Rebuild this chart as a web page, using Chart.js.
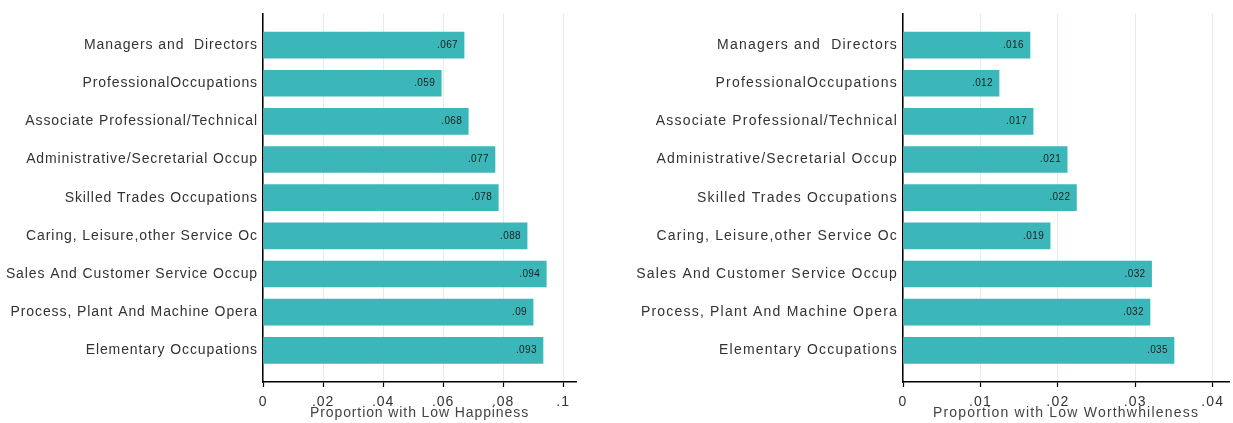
<!DOCTYPE html>
<html>
<head>
<meta charset="utf-8">
<script src="https://cdn.jsdelivr.net/npm/chart.js@4.4.0/dist/chart.umd.min.js"></script>
<style>
html, body { margin: 0; padding: 0; background: #fff; }
#left { position: absolute; left: 0; top: 0; width: 590px; height: 423px; }
#right { position: absolute; left: 620px; top: 0; width: 613px; height: 423px; }
</style>
</head>
<body>
<div id="left"><canvas id="chartLeft"></canvas></div>
<div id="right"><canvas id="chartRight"></canvas></div>
<script>
const occupations = [
    "Managers and  Directors",
    "ProfessionalOccupations",
    "Associate Professional/Technical",
    "Administrative/Secretarial Occup",
    "Skilled Trades Occupations",
    "Caring, Leisure,other Service Oc",
    "Sales And Customer Service Occup",
    "Process, Plant And Machine Opera",
    "Elementary Occupations"
];
const lowHappiness = [0.067, 0.0594, 0.0684, 0.0773, 0.0784, 0.088, 0.0944, 0.09, 0.0933];
const lowWorthwhileness = [0.0164, 0.0124, 0.0168, 0.0212, 0.0224, 0.019, 0.0321, 0.0319, 0.035];
const happinessTicks = [0, 0.02, 0.04, 0.06, 0.08, 0.1];
const worthwhileTicks = [0, 0.01, 0.02, 0.03, 0.04];

const fmt = (v) => v === 0 ? "0" : v.toFixed(3).replace(/0+$/, "").replace(/^0/, "");

const barValueLabels = {
    id: "barValueLabels",
    beforeDraw(chart, args, opts) {
        chart.ctx.letterSpacing = opts.spacing + "px";
    },
    afterDatasetsDraw(chart) {
        const ctx = chart.ctx;
        const meta = chart.getDatasetMeta(0);
        ctx.save();
        ctx.letterSpacing = "0.4px";
        ctx.font = '10px "Liberation Sans"';
        ctx.fillStyle = "#1e1e1e";
        ctx.textAlign = "right";
        ctx.textBaseline = "middle";
        meta.data.forEach((bar, i) => {
            ctx.fillText(fmt(chart.data.datasets[0].data[i].x), bar.x - 6, bar.y);
        });
        ctx.restore();
    }
};

function makeChart(canvasId, values, tickValues, xMax, yWidth, padRight, titleText, spacing) {
    const font = { family: "Liberation Sans", size: 14 };
    return new Chart(document.getElementById(canvasId), {
        type: "bar",
        data: {
            datasets: [{
                data: values.map((v, i) => ({ x: v, y: i })),
                backgroundColor: "#3bb6b9",
                borderWidth: 0,
                barThickness: 26
            }]
        },
        plugins: [barValueLabels],
        options: {
            indexAxis: "y",
            responsive: true,
            maintainAspectRatio: false,
            animation: false,
            layout: { padding: { top: 12, right: padRight, left: 0, bottom: 0 } },
            scales: {
                x: {
                    type: "linear",
                    min: 0,
                    max: xMax,
                    offset: false,
                    afterBuildTicks: (s) => { s.ticks = tickValues.map((v) => ({ value: v })); },
                    afterFit: (s) => { s.height = 41; },
                    grid: { color: "#e3edf1", lineWidth: 1, tickColor: "#000", tickLength: 5, tickWidth: 1.2 },
                    border: { color: "#000", width: 1.5 },
                    ticks: { padding: 7, color: "#333", font: font, callback: (v) => fmt(v) },
                    title: { display: true, text: titleText, color: "#444", font: font, padding: { top: 0, bottom: 1 } }
                },
                y: {
                    type: "linear",
                    reverse: true,
                    offset: false,
                    min: -0.83,
                    max: 8.83,
                    afterBuildTicks: (s) => { s.ticks = occupations.map((_, i) => ({ value: i })); },
                    afterFit: (s) => { s.width = yWidth; },
                    grid: { display: false, drawTicks: false },
                    border: { display: true, color: "#000", width: 1.5 },
                    ticks: { padding: 5, color: "#333", font: font, autoSkip: false, callback: (v) => occupations[v] }
                }
            },
            plugins: {
                legend: { display: false },
                tooltip: { enabled: false },
                barValueLabels: { spacing: spacing }
            }
        }
    });
}

const chartLeft = makeChart("chartLeft", lowHappiness, happinessTicks, 0.1043, 263, 14, "Proportion with Low Happiness", 0.9);
const chartRight = makeChart("chartRight", lowWorthwhileness, worthwhileTicks, 0.0421, 283, 4, "Proportion with Low Worthwhileness", 1.2);
</script>
</body>
</html>
